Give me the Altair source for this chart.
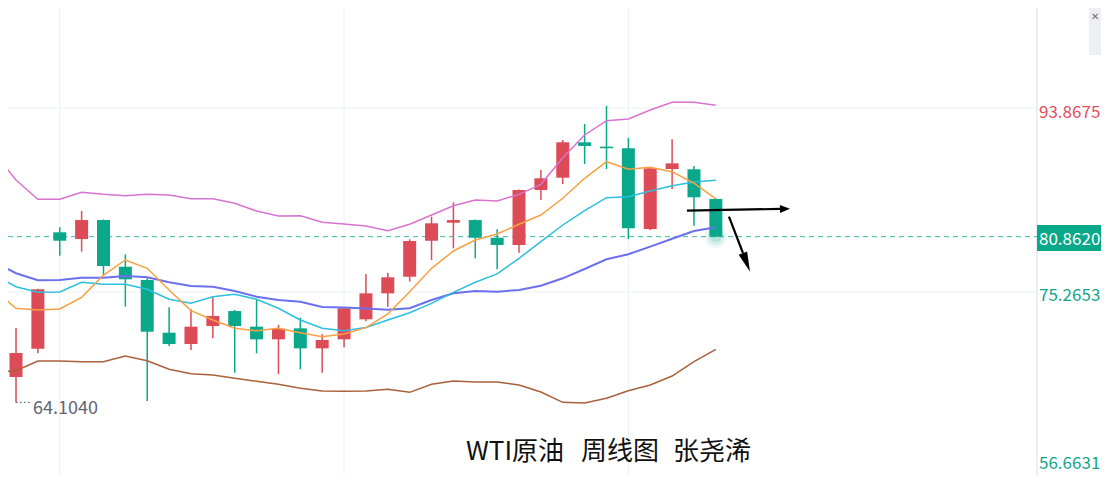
import altair as alt
import pandas as pd

# ---------------- data (weekly WTI candles) ----------------
WEEK = list(range(-1, 33))
OPEN = [77.0, 66.67, 69.53, 81.30, 80.62, 82.54, 77.82, 76.48, 71.15, 70.01, 71.83, 73.34, 71.76,
        70.48, 71.59, 69.57, 70.48, 72.50, 75.13, 76.81, 80.45, 82.27, 82.54, 80.75, 80.02, 85.58,
        86.82, 90.40, 89.96, 89.79, 81.63, 87.70, 87.67, 84.67]
HIGH = [77.5, 71.63, 75.60, 81.81, 83.45, 82.60, 79.08, 76.65, 73.72, 73.52, 74.73, 73.45, 74.46,
        71.93, 72.67, 70.99, 73.65, 77.08, 77.22, 80.59, 82.88, 84.33, 82.60, 81.60, 85.62, 87.60,
        90.63, 92.25, 94.07, 90.86, 87.80, 90.70, 88.00, 84.75]
LOW = [65.6, 64.104, 69.07, 78.94, 79.34, 76.98, 73.78, 64.24, 69.80, 69.40, 70.58, 67.10, 69.07,
       66.97, 67.45, 67.10, 69.67, 72.30, 73.78, 76.31, 78.50, 79.68, 78.67, 77.56, 79.24, 84.56,
       86.18, 88.20, 87.70, 80.62, 81.53, 85.65, 81.97, 80.862]
CLOSE = [67.0, 69.10, 75.54, 80.45, 82.54, 77.89, 76.55, 71.25, 70.01, 71.76, 72.84, 71.83, 70.48,
         71.55, 69.57, 70.41, 73.62, 75.13, 76.75, 80.42, 82.21, 82.54, 80.75, 80.02, 85.58, 86.76,
         90.40, 90.03, 89.80, 81.70, 87.77, 88.27, 84.84, 80.862]
BOLL_UPPER = [89.32, 86.59, 84.64, 84.64, 85.34, 85.14, 85.00, 85.14, 85.07, 84.70, 84.70, 84.23,
              83.45, 82.95, 82.98, 82.31, 82.14, 81.94, 81.46, 82.11, 83.05, 83.99, 84.57, 84.47,
              85.14, 86.15, 88.84, 91.14, 92.58, 92.75, 93.67, 94.44, 94.44, 94.14]
BOLL_MID = [78.30, 77.16, 76.45, 76.48, 76.71, 76.71, 76.88, 76.75, 76.25, 75.87, 75.80, 75.37,
            74.79, 74.46, 74.28, 73.75, 73.70, 73.60, 73.48, 73.62, 74.46, 75.13, 75.37, 75.30,
            75.47, 75.90, 76.65, 77.59, 78.57, 79.08, 79.85, 80.65, 81.43, 81.81]
BOLL_LOWER = [67.18, 67.31, 68.29, 68.29, 68.22, 68.22, 68.79, 68.32, 67.45, 67.01, 66.87, 66.54,
              66.24, 65.93, 65.53, 65.26, 65.23, 65.26, 65.43, 65.12, 65.93, 66.27, 66.17, 66.17,
              65.86, 65.15, 64.11, 64.04, 64.52, 65.29, 65.86, 66.77, 68.22, 69.47]
MA5 = [75.47, 73.62, 73.45, 73.55, 74.73, 76.98, 78.50, 77.66, 75.47, 73.38, 72.44, 71.60, 71.35,
       71.60, 71.15, 70.75, 71.02, 71.66, 73.04, 75.30, 77.66, 79.41, 80.52, 81.13, 82.11, 83.05,
       84.74, 86.76, 88.44, 87.67, 87.87, 87.43, 86.26, 84.67]
MA10 = [76.98, 75.80, 75.23, 75.26, 76.25, 76.04, 76.04, 75.54, 74.53, 74.12, 74.79, 75.03, 74.53,
        73.62, 72.44, 71.60, 71.35, 71.68, 72.44, 73.17, 74.12, 75.23, 76.25, 77.09, 78.67, 80.35,
        82.04, 83.49, 84.80, 84.90, 85.48, 86.01, 86.39, 86.56]

GRID_PRICES = [56.6631, 75.2653, 93.8675]
GRID_WEEKS = [2, 15, 28]
LAST_PRICE = 80.8620
LOW_WEEK = 0
LOW_PRICE = 64.104
TITLE_WORDS = ["WTI原油", "周线图", "张尧浠"]

# hand-drawn arrows (week index, price)
ARROW_SHAFT = {"x": [30.68, 32.60], "y": [83.485, 82.878], "x2": [34.93, 33.24], "y2": [83.667, 79.21]}
HEAD_H = {"x": [35.16], "y": [83.677], "angle": [89]}
HEAD_D = {"x": [33.40], "y": [78.26], "angle": [159]}

# ---------------- styling ----------------
FONT = "Noto Sans CJK SC"
RED = "#dd4b57"
GREEN = "#0aa88a"
W, H = 1093, 467
PLOT_RIGHT = 1029
LABEL_X = 1031

df = pd.DataFrame({"week": WEEK, "open": OPEN, "high": HIGH, "low": LOW, "close": CLOSE,
                   "upper": BOLL_UPPER, "mid": BOLL_MID, "lower": BOLL_LOWER,
                   "ma5": MA5, "ma10": MA10})

xs = alt.Scale(domain=[-0.366, 49.611], nice=False, zero=False, padding=0)
ys = alt.Scale(domain=[56.764, 103.9775], nice=False, zero=False, padding=0)


def X(f):
    return alt.X(f"{f}:Q", scale=xs, axis=None)


def Y(f):
    return alt.Y(f"{f}:Q", scale=ys, axis=None)


one = pd.DataFrame({"a": [0]})
layers = []

# grid
layers.append(alt.Chart(pd.DataFrame({"p": GRID_PRICES})).mark_rule(color="#eef0f4", strokeWidth=1)
              .encode(y=Y("p"), x=alt.value(0), x2=alt.value(PLOT_RIGHT)))
layers.append(alt.Chart(pd.DataFrame({"w": GRID_WEEKS})).mark_rule(color="#eef0f4", strokeWidth=1)
              .encode(x=X("w"), y=alt.value(0), y2=alt.value(H)))
layers.append(alt.Chart(one).mark_rule(color="#e6e8ee", strokeWidth=1.5)
              .encode(x=alt.value(PLOT_RIGHT), y=alt.value(0), y2=alt.value(H)))

# last price dashed line
layers.append(alt.Chart(pd.DataFrame({"p": [LAST_PRICE]}))
              .mark_rule(color="#3dbba2", strokeDash=[5, 4], strokeWidth=1)
              .encode(y=Y("p"), x=alt.value(0), x2=alt.value(PLOT_RIGHT)))

# candles
candle_color = alt.condition("datum.close >= datum.open", alt.value(RED), alt.value(GREEN))
layers.append(alt.Chart(df).mark_rule(strokeWidth=1.5, clip=True)
              .encode(x=X("week"), y=Y("low"), y2=alt.Y2("high"), color=candle_color))
layers.append(alt.Chart(df).mark_bar(size=13, clip=True)
              .encode(x=X("week"), y=Y("open"), y2=alt.Y2("close"), color=candle_color))

# indicator lines
for field, col, sw in [("upper", "#d873cf", 1.5), ("lower", "#a9613a", 1.5), ("mid", "#6d70ee", 2),
                       ("ma10", "#2bbfe0", 1.5), ("ma5", "#f8a043", 1.5)]:
    layers.append(alt.Chart(df).mark_line(color=col, strokeWidth=sw, clip=True)
                  .encode(x=X("week"), y=Y(field)))

# glow at last close
last = pd.DataFrame({"week": [WEEK[-1]], "close": [CLOSE[-1]]})
for size, op in [(520, 0.07), (300, 0.11), (120, 0.16)]:
    layers.append(alt.Chart(last).mark_circle(color=GREEN, opacity=op, size=size)
                  .encode(x=X("week"), y=Y("close")))

# arrows
layers.append(alt.Chart(pd.DataFrame(ARROW_SHAFT)).mark_rule(color="black", strokeWidth=2.2)
              .encode(x=X("x"), y=Y("y"), x2=alt.X2("x2"), y2=alt.Y2("y2")))
layers.append(alt.Chart(pd.DataFrame(HEAD_H))
              .mark_point(shape="M0,-1L0.8,1L-0.8,1Z", size=100, filled=True, color="black", opacity=1)
              .encode(x=X("x"), y=Y("y"), angle=alt.Angle("angle:Q", scale=None)))
layers.append(alt.Chart(pd.DataFrame(HEAD_D))
              .mark_point(shape="M0,-1L0.45,1L-0.45,1Z", size=400, filled=True, color="black", opacity=1)
              .encode(x=X("x"), y=Y("y"), angle=alt.Angle("angle:Q", scale=None)))

# low marker label
low_df = pd.DataFrame({"x": [LOW_WEEK], "x2": [LOW_WEEK + 0.68], "y": [LOW_PRICE],
                       "label": [f"{LOW_PRICE:.4f}"]})
layers.append(alt.Chart(low_df).mark_rule(color="#6b7080", strokeDash=[1.5, 2.5], strokeWidth=1.2)
              .encode(x=X("x"), x2=alt.X2("x2"), y=Y("y")))
layers.append(alt.Chart(low_df).mark_text(align="left", baseline="middle", dx=17, dy=6.5, fontSize=18,
                                          font=FONT, color="#5f6473")
              .encode(x=X("x"), y=Y("y"), text="label:N"))

# right-side price labels
for p, col, dy in [(93.8675, "#e04f5c", 4.5), (75.2653, "#12a58c", 4.5), (56.6631, "#12a58c", -11.5)]:
    layers.append(alt.Chart(pd.DataFrame({"p": [p], "label": [f"{p:.4f}"]}))
                  .mark_text(align="left", baseline="middle", dy=dy, fontSize=17, font=FONT, color=col)
                  .encode(x=alt.value(LABEL_X), y=Y("p"), text="label:N"))

layers.append(alt.Chart(one).mark_rect(color=GREEN)
              .encode(x=alt.value(PLOT_RIGHT), x2=alt.value(W), y=alt.value(217), y2=alt.value(243)))
layers.append(alt.Chart(pd.DataFrame({"p": [LAST_PRICE], "label": [f"{LAST_PRICE:.4f}"]}))
              .mark_text(align="left", baseline="middle", dy=3, fontSize=17, font=FONT, color="white")
              .encode(x=alt.value(LABEL_X), y=Y("p"), text="label:N"))

# top-right close box
layers.append(alt.Chart(one).mark_rect(color="#eeeff2")
              .encode(x=alt.value(W - 12), x2=alt.value(W), y=alt.value(0), y2=alt.value(47)))
layers.append(alt.Chart(one).mark_text(text="✕", fontSize=10, color="#6a6e78", font=FONT)
              .encode(x=alt.value(W - 6), y=alt.value(9)))

# title words (centred on the word centres of the reference)
for word, px in zip(TITLE_WORDS, [507, 612, 704]):
    layers.append(alt.Chart(pd.DataFrame({"t": [word]}))
                  .mark_text(align="center", baseline="middle", fontSize=26, font=FONT, color="#111111")
                  .encode(x=alt.value(px), y=alt.value(444), text="t:N"))

chart = (alt.layer(*layers)
         .properties(width=W, height=H, padding=0, background="white",
                     autosize=alt.AutoSizeParams(type="none"))
         .configure_view(stroke=None))

chart.save("out.html", embed_options={"renderer": "svg", "actions": False})
